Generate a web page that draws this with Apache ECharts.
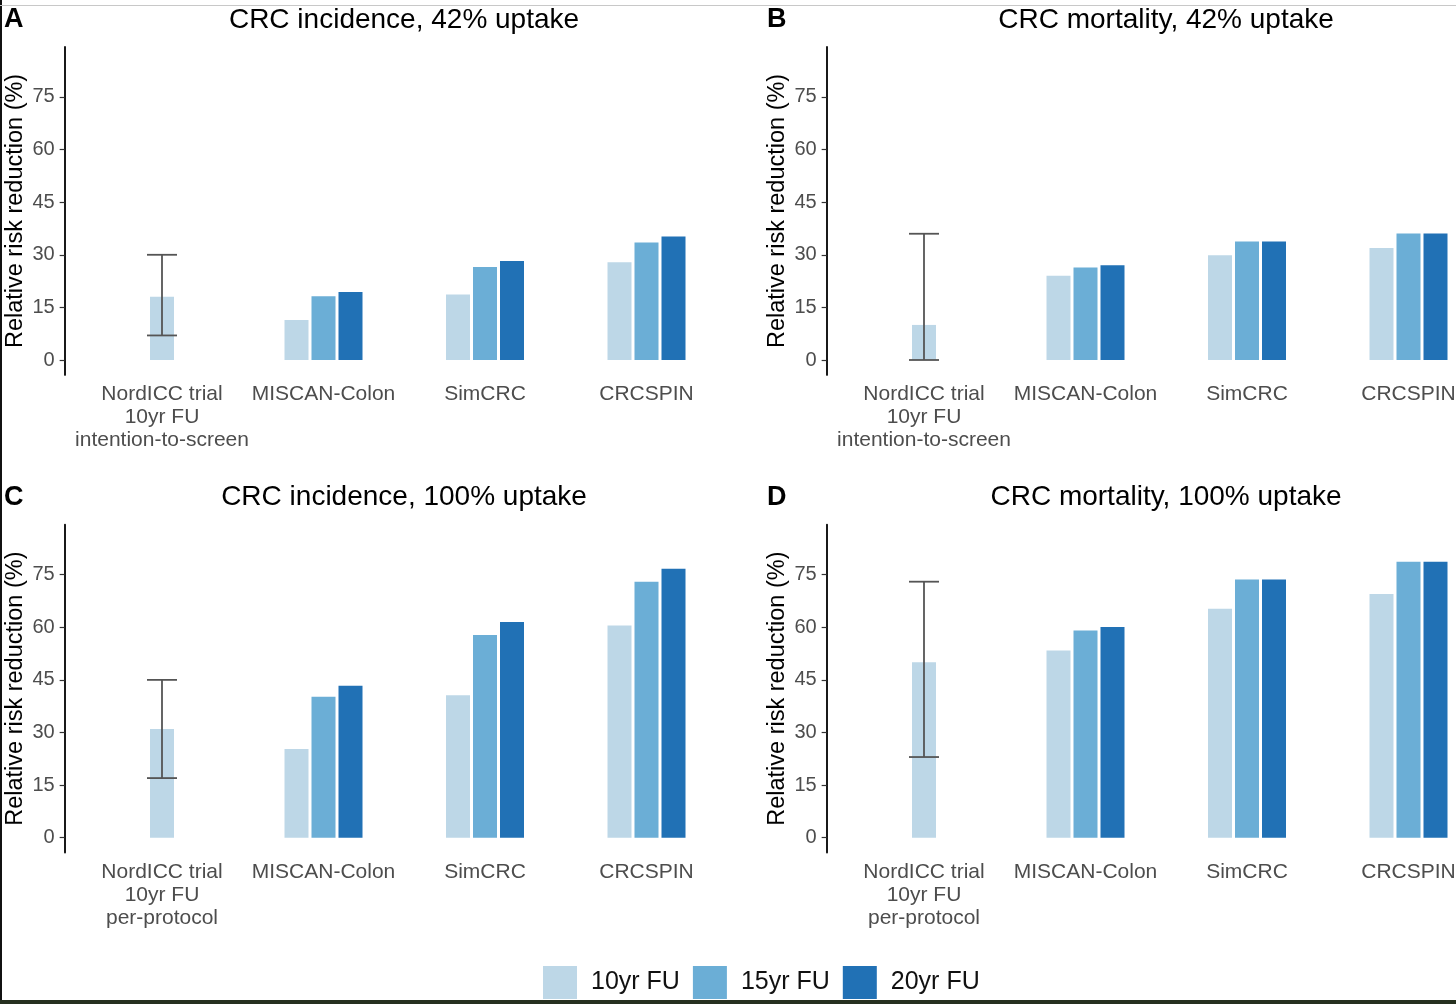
<!DOCTYPE html>
<html>
<head>
<meta charset="utf-8">
<script src="https://cdn.jsdelivr.net/npm/echarts@6/dist/echarts.min.js"></script>
<style>
  html, body { margin: 0; padding: 0; background: #fff; overflow: hidden; width: 1456px; height: 1004px; }
  #chart { position: absolute; left: 0; top: 0; width: 1520px; height: 1004px; }
  .edge-left { position: absolute; left: 0; top: 0; width: 2px; height: 1004px; background: #111; }
  .edge-top { position: absolute; left: 0; top: 5px; width: 1456px; height: 1px; background: #c8c8c8; }
  .edge-bottom { position: absolute; left: 0; top: 1000px; width: 1456px; height: 4px; background: #26301f; }
</style>
</head>
<body>
<div id="chart"></div>
<div class="edge-left"></div>
<div class="edge-top"></div>
<div class="edge-bottom"></div>
<script>
// ---------------- data ----------------
const categoriesITT = ['NordICC trial\n10yr FU\nintention-to-screen', 'MISCAN-Colon', 'SimCRC', 'CRCSPIN'];
const categoriesPP  = ['NordICC trial\n10yr FU\nper-protocol', 'MISCAN-Colon', 'SimCRC', 'CRCSPIN'];
const seriesNames = ['10yr FU', '15yr FU', '20yr FU'];
const yTicks = [0, 15, 30, 45, 60, 75];

const panelTitles = ['CRC incidence, 42% uptake', 'CRC mortality, 42% uptake', 'CRC incidence, 100% uptake', 'CRC mortality, 100% uptake'];
const panelLetters = ['A', 'B', 'C', 'D'];

// NordICC trial point estimates and 95% CI (low, high)
const nordA = 18, ciA = [7, 30];
const nordB = 10, ciB = [0, 36];
const nordC = 31, ciC = [17, 45];
const nordD = 50, ciD = [23, 73];

// model values: MISCAN-Colon, SimCRC, CRCSPIN
const fu10A = [11.4, 18.7, 27.9];
const fu15A = [18.2, 26.5, 33.5];
const fu20A = [19.4, 28.2, 35.2];

const fu10B = [24.0, 29.9, 31.9];
const fu15B = [26.4, 33.8, 36.1];
const fu20B = [27.0, 33.8, 36.1];

const fu10C = [25.3, 40.6, 60.5];
const fu15C = [40.2, 57.8, 73.0];
const fu20C = [43.3, 61.5, 76.7];

const fu10D = [53.4, 65.3, 69.5];
const fu15D = [59.1, 73.6, 78.7];
const fu20D = [60.1, 73.6, 78.7];

// ---------------- layout / style ----------------
const colors = ['#bdd7e7', '#6baed6', '#2171b5'];
const nordColor = '#bdd7e7';
const FONT = '"Liberation Sans", Arial, sans-serif';

const panels = [
  { cats: categoriesITT, nord: nordA, ci: ciA, vals: [fu10A, fu15A, fu20A], left: 81.25, top: 47 },
  { cats: categoriesITT, nord: nordB, ci: ciB, vals: [fu10B, fu15B, fu20B], left: 843.25, top: 47 },
  { cats: categoriesPP,  nord: nordC, ci: ciC, vals: [fu10C, fu15C, fu20C], left: 81.25, top: 524.7 },
  { cats: categoriesPP,  nord: nordD, ci: ciD, vals: [fu10D, fu15D, fu20D], left: 843.25, top: 524.7 }
];
const GRID_W = 646, GRID_H = 327.9, Y_OFFSET = 16.6;

const grid = [], xAxis = [], yAxis = [], series = [], graphic = [];

panels.forEach((p, i) => {
  grid.push({ left: p.left, top: p.top, width: GRID_W, height: GRID_H, containLabel: false });
  // model axis (labels shown)
  xAxis.push({
    type: 'category', gridIndex: i, data: p.cats,
    axisLine: { show: false }, axisTick: { show: false }, splitLine: { show: false },
    axisLabel: { interval: 0, margin: 8, color: '#4d4d4d', fontSize: 21, lineHeight: 23, fontFamily: FONT, align: 'center' }
  });
  // NordICC axis (hidden, same categories so the single bar is centred)
  xAxis.push({
    type: 'category', gridIndex: i, data: p.cats,
    axisLine: { show: false }, axisTick: { show: false }, axisLabel: { show: false }, splitLine: { show: false }
  });
  yAxis.push({
    type: 'value', gridIndex: i, min: -4.25, max: 89.25, offset: Y_OFFSET,
    name: 'Relative risk reduction (%)', nameLocation: 'middle', nameGap: 37,
    nameTextStyle: { color: '#000', fontSize: 23.5, fontFamily: FONT },
    axisLine: { show: true, lineStyle: { color: '#000', width: 1.8 } },
    axisTick: { show: true, length: 5, customValues: yTicks, lineStyle: { color: '#333', width: 1.2 } },
    axisLabel: { customValues: yTicks, margin: 10, color: '#4d4d4d', fontSize: 20, fontFamily: FONT },
    splitLine: { show: false }
  });
  const xModel = i * 2, xNord = i * 2 + 1;
  seriesNames.forEach((name, k) => {
    series.push({
      type: 'bar', name: name, xAxisIndex: xModel, yAxisIndex: i,
      data: ['-'].concat(p.vals[k]),
      barWidth: 24, barGap: '12.5%',
      itemStyle: { color: colors[k] },
      emphasis: { disabled: true }, silent: true
    });
  });
  series.push({
    type: 'bar', name: 'NordICC', xAxisIndex: xNord, yAxisIndex: i,
    data: [p.nord, '-', '-', '-'], barWidth: 24,
    itemStyle: { color: nordColor }, emphasis: { disabled: true }, silent: true
  });
  series.push({
    type: 'custom', name: 'NordICC CI', xAxisIndex: xNord, yAxisIndex: i,
    data: [[0, p.ci[0], p.ci[1]]],
    encode: { x: 0, y: [1, 2] }, silent: true, z: 5,
    renderItem: function (params, api) {
      const lo = api.coord([api.value(0), api.value(1)]);
      const hi = api.coord([api.value(0), api.value(2)]);
      const hw = 15;
      const st = { stroke: '#555', lineWidth: 1.8 };
      return {
        type: 'group', children: [
          { type: 'line', shape: { x1: lo[0], y1: lo[1], x2: hi[0], y2: hi[1] }, style: st },
          { type: 'line', shape: { x1: lo[0] - hw, y1: lo[1], x2: lo[0] + hw, y2: lo[1] }, style: st },
          { type: 'line', shape: { x1: hi[0] - hw, y1: hi[1], x2: hi[0] + hw, y2: hi[1] }, style: st }
        ]
      };
    }
  });
  // panel title (centred over the plotting range) and letter
  const axisX = p.left - Y_OFFSET;
  const plotRight = p.left + GRID_W + (161.5 * 0.1);
  graphic.push({
    type: 'text', x: (axisX + plotRight) / 2, y: p.top - 27,
    style: { text: panelTitles[i], fill: '#000', font: '28px ' + FONT, textAlign: 'center', textVerticalAlign: 'middle' }
  });
  graphic.push({
    type: 'text', x: (i % 2 === 0 ? 4 : 767), y: p.top - 27,
    style: { text: panelLetters[i], fill: '#000', font: 'bold 27px ' + FONT, textAlign: 'left', textVerticalAlign: 'middle' }
  });
});

const chart = echarts.init(document.getElementById('chart'), null, { renderer: 'canvas', width: 1520, height: 1004 });
chart.setOption({
  animation: false,
  backgroundColor: 'transparent',
  grid: grid, xAxis: xAxis, yAxis: yAxis, series: series, graphic: graphic,
  legend: {
    data: seriesNames, left: 543, top: 966, padding: 0,
    itemWidth: 34, itemHeight: 33, itemGap: 13, icon: 'rect',
    textStyle: { color: '#111', fontSize: 25, fontFamily: FONT, padding: [0, 0, 0, 9] },
    selectedMode: false
  }
});
</script>
</body>
</html>
